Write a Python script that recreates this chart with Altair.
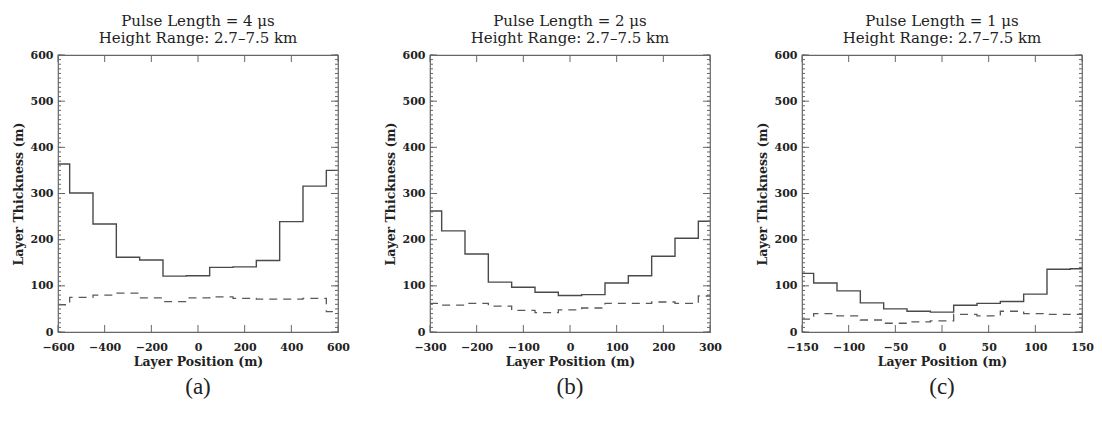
import altair as alt
import pandas as pd

# ---- data ----
pos_a = [-600, -500, -400, -300, -200, -100, 0, 100, 200, 300, 400, 500, 600]
solid_a = [364, 301, 234, 162, 156, 121, 122, 140, 141, 155, 239, 316, 350]
dash_a = [59, 75, 80, 84, 74, 66, 74, 76, 73, 71, 71, 73, 44]

pos_b = [-300, -250, -200, -150, -100, -50, 0, 50, 100, 150, 200, 250, 300]
solid_b = [262, 219, 169, 108, 97, 86, 79, 81, 106, 122, 164, 203, 240]
dash_b = [62, 58, 62, 56, 47, 42, 48, 52, 62, 62, 65, 62, 78]

pos_c = [-150, -125, -100, -75, -50, -25, 0, 25, 50, 75, 100, 125, 150]
solid_c = [127, 106, 89, 63, 50, 45, 43, 58, 62, 66, 82, 136, 137]
dash_c = [28, 40, 35, 26, 19, 22, 24, 38, 35, 45, 40, 38, 38]

titles = ["Pulse Length = 4 \u03bcs", "Pulse Length = 2 \u03bcs", "Pulse Length = 1 \u03bcs"]
subtitle = "Height Range: 2.7\u20137.5 km"
captions = ["(a)", "(b)", "(c)"]
x_ticks_a = [-600, -400, -200, 0, 200, 400, 600]
x_ticks_b = [-300, -200, -100, 0, 100, 200, 300]
x_ticks_c = [-150, -100, -50, 0, 50, 100, 150]
y_ticks = [0, 100, 200, 300, 400, 500, 600]
y_minor = list(range(0, 601, 10))

W, H = 280, 277
SERIF = "DejaVu Serif"
LINE = "#4a4a4a"
FRAME = "#666666"


def panel(pos, solid, dash, xticks, title, caption):
    xdom = [xticks[0], xticks[-1]]
    xs = alt.Scale(domain=xdom, nice=False, zero=False)
    ys = alt.Scale(domain=[0, 600], nice=False)
    xaxis = alt.Axis(values=xticks, title="Layer Position (m)", ticks=False, domain=False,
                     grid=False, labelPadding=9, titlePadding=3, format="d",
                     labelFlush=False, labelOverlap=False)
    yaxis = alt.Axis(values=y_ticks, title="Layer Thickness (m)", ticks=False, domain=False,
                     grid=False, labelPadding=5, titlePadding=5, format="d",
                     labelFlush=False, labelOverlap=False)
    X = alt.X("pos:Q", scale=xs, axis=xaxis)
    Y = alt.Y("val:Q", scale=ys, axis=yaxis)

    df = pd.DataFrame({"pos": pos * 2, "val": solid + dash,
                       "kind": ["solid"] * len(pos) + ["dash"] * len(pos)})
    base = alt.Chart(df)
    solid_l = base.transform_filter(alt.datum.kind == "solid").mark_line(
        interpolate="step", color=LINE, strokeWidth=1.4).encode(x=X, y=Y)
    dash_l = base.transform_filter(alt.datum.kind == "dash").mark_line(
        interpolate="step", color="#5a5a5a", strokeWidth=1.3, strokeDash=[8, 6]).encode(x=X, y=Y)

    ymaj = alt.Chart(pd.DataFrame({"val": y_ticks}))
    ymin = alt.Chart(pd.DataFrame({"val": y_minor}))
    xmaj = alt.Chart(pd.DataFrame({"pos": xticks}))
    tick_style = dict(color=FRAME, strokeWidth=1)
    yl = ymaj.mark_rule(**tick_style).encode(y=Y, x=alt.value(0), x2=alt.value(7))
    yr = ymaj.mark_rule(**tick_style).encode(y=Y, x=alt.value(W), x2=alt.value(W - 7))
    yml = ymin.mark_rule(**tick_style).encode(y=Y, x=alt.value(0), x2=alt.value(3))
    ymr = ymin.mark_rule(**tick_style).encode(y=Y, x=alt.value(W), x2=alt.value(W - 3))
    xb = xmaj.mark_rule(**tick_style).encode(x=X, y=alt.value(H), y2=alt.value(H - 7))
    xt = xmaj.mark_rule(**tick_style).encode(x=X, y=alt.value(0), y2=alt.value(7))
    cap = alt.Chart(pd.DataFrame({"t": [caption]})).mark_text(
        font="Liberation Serif", fontSize=23, color="#222222", baseline="middle").encode(
        text="t:N", x=alt.value(W / 2), y=alt.value(H + 55))

    return alt.layer(solid_l, dash_l, yml, ymr, yl, yr, xb, xt, cap).properties(
        width=W, height=H,
        title=alt.TitleParams([title, subtitle], font=SERIF, fontSize=15,
                              fontWeight="normal", color="#222222", anchor="middle",
                              lineHeight=17, offset=3))


chart = alt.hconcat(
    panel(pos_a, solid_a, dash_a, x_ticks_a, titles[0], captions[0]),
    panel(pos_b, solid_b, dash_b, x_ticks_b, titles[1], captions[1]),
    panel(pos_c, solid_c, dash_c, x_ticks_c, titles[2], captions[2]),
    spacing=32,
).configure_view(stroke=FRAME, strokeWidth=1.2).configure_axis(
    labelFont=SERIF, labelFontSize=11, labelFontWeight="bold", labelColor="#222222",
    titleFont=SERIF, titleFontSize=12.5, titleFontWeight="bold", titleColor="#222222",
).properties(padding={"left": 3, "top": 5, "right": 0, "bottom": 2})

chart.save("out.html", embed_options={"renderer": "svg", "actions": False})
